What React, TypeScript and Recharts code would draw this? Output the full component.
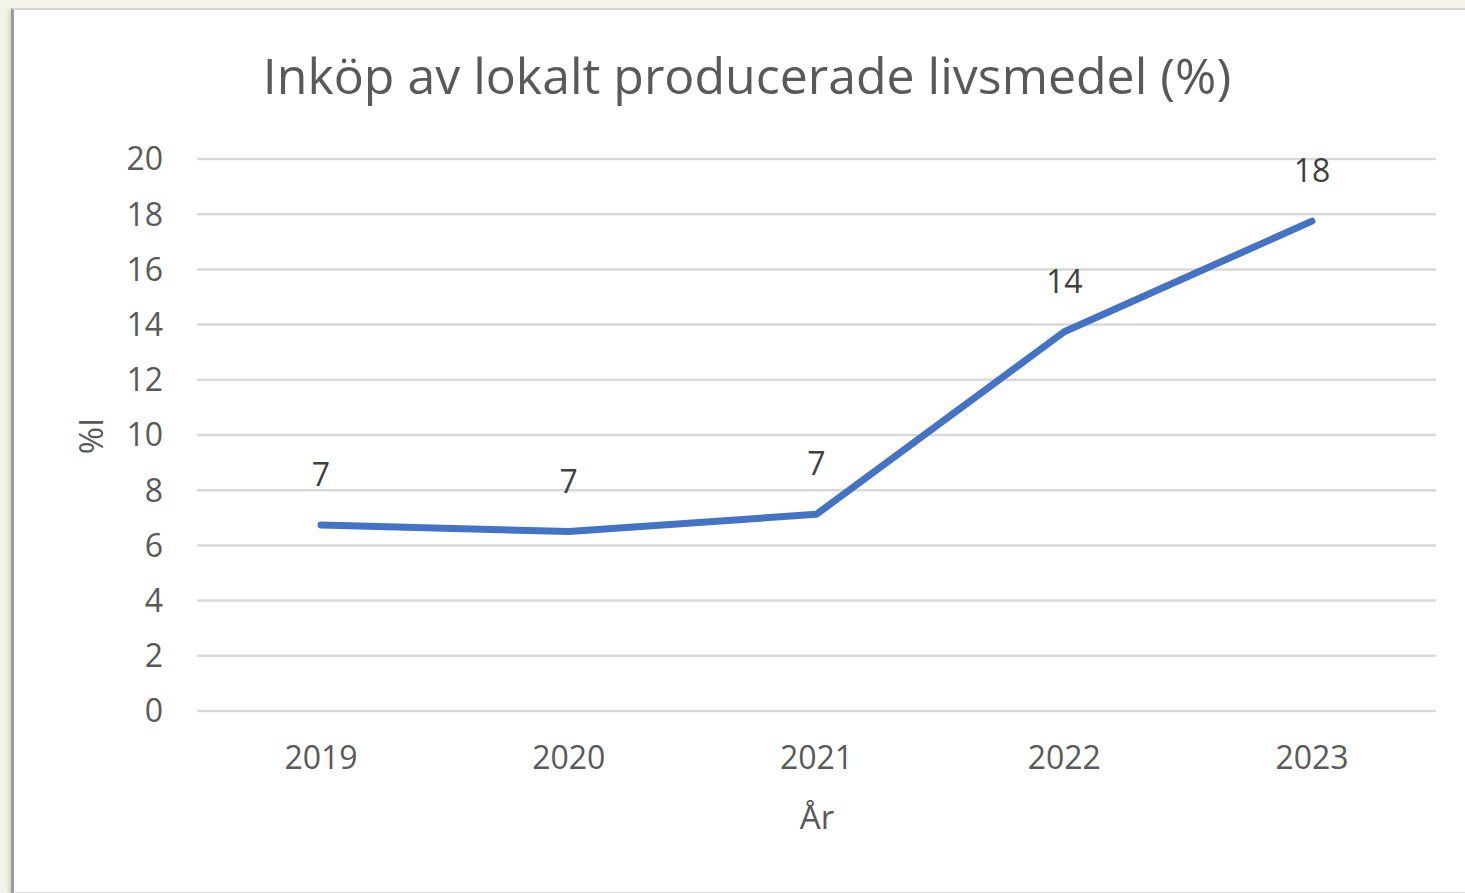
import React from "react";
import { LineChart, Line, XAxis, YAxis, CartesianGrid, LabelList } from "recharts";

const years = ["2019", "2020", "2021", "2022", "2023"];
const shares = [6.74, 6.5, 7.13, 13.74, 17.75];
const yTicks = [0, 2, 4, 6, 8, 10, 12, 14, 16, 18, 20];

const data = years.map((year, i) => ({ year, value: shares[i] }));

const FONT = "'Open Sans', 'Noto Sans', sans-serif";
const TEXT = "#595959";

export default function App() {
  return (
    <div
      style={{
        position: "absolute",
        left: 0,
        top: 0,
        width: 1465,
        height: 893,
        background: "#f4f3ea",
        overflow: "hidden",
        fontFamily: FONT,
      }}
    >
      <div
        style={{
          position: "absolute",
          left: 11,
          top: 8,
          width: 1470,
          height: 882,
          background: "#ffffff",
          borderTop: "2px solid #d6d6d6",
          borderLeft: "3px solid #9a9a9a",
          borderBottom: "2px solid #d6d6d6",
          boxShadow: "-2px 2px 4px rgba(0,0,0,0.15)",
        }}
      />
      <div
        style={{
          position: "absolute",
          left: 0,
          top: 45,
          width: 1494,
          textAlign: "center",
          fontSize: 50,
          color: TEXT,
          lineHeight: "60px",
          whiteSpace: "nowrap",
        }}
      >
        Inköp av lokalt producerade livsmedel (%)
      </div>
      <div
        style={{
          position: "absolute",
          left: 91,
          top: 436,
          transform: "translate(-50%, -50%) rotate(-90deg)",
          fontSize: 33,
          color: TEXT,
          whiteSpace: "nowrap",
          lineHeight: "40px",
        }}
      >
        %I
      </div>
      <div
        style={{
          position: "absolute",
          left: 817,
          top: 817,
          transform: "translate(-50%, -50%)",
          fontSize: 33,
          color: TEXT,
          whiteSpace: "nowrap",
          lineHeight: "40px",
        }}
      >
        År
      </div>
      <div style={{ position: "absolute", left: 0, top: 0 }}>
        <LineChart
          width={1465}
          height={893}
          data={data}
          margin={{ top: 159, right: 29, bottom: 122, left: 117 }}
        >
          <CartesianGrid vertical={false} stroke="#d9d9d9" strokeWidth={2.5} />
          <XAxis
            dataKey="year"
            axisLine={false}
            tickLine={false}
            height={60}
            padding={{ left: 124, right: 124 }}
            tickMargin={29}
            tick={{ fill: TEXT, fontSize: 32, fontFamily: FONT }}
            interval={0}
          />
          <YAxis
            domain={[0, 20]}
            ticks={yTicks}
            width={80}
            axisLine={false}
            tickLine={false}
            tickMargin={28}
            tick={{ fill: TEXT, fontSize: 32, fontFamily: FONT }}
            interval={0}
          />
          <Line
            type="linear"
            dataKey="value"
            stroke="#4472c4"
            strokeWidth={7}
            strokeLinecap="round"
            strokeLinejoin="round"
            dot={false}
            activeDot={false}
            isAnimationActive={false}
          >
            <LabelList
              dataKey="value"
              position="top"
              offset={39}
              formatter={(v: any) => Math.round(Number(v))}
              style={{ fill: "#404040", fontSize: 32, fontFamily: FONT }}
            />
          </Line>
        </LineChart>
      </div>
    </div>
  );
}
